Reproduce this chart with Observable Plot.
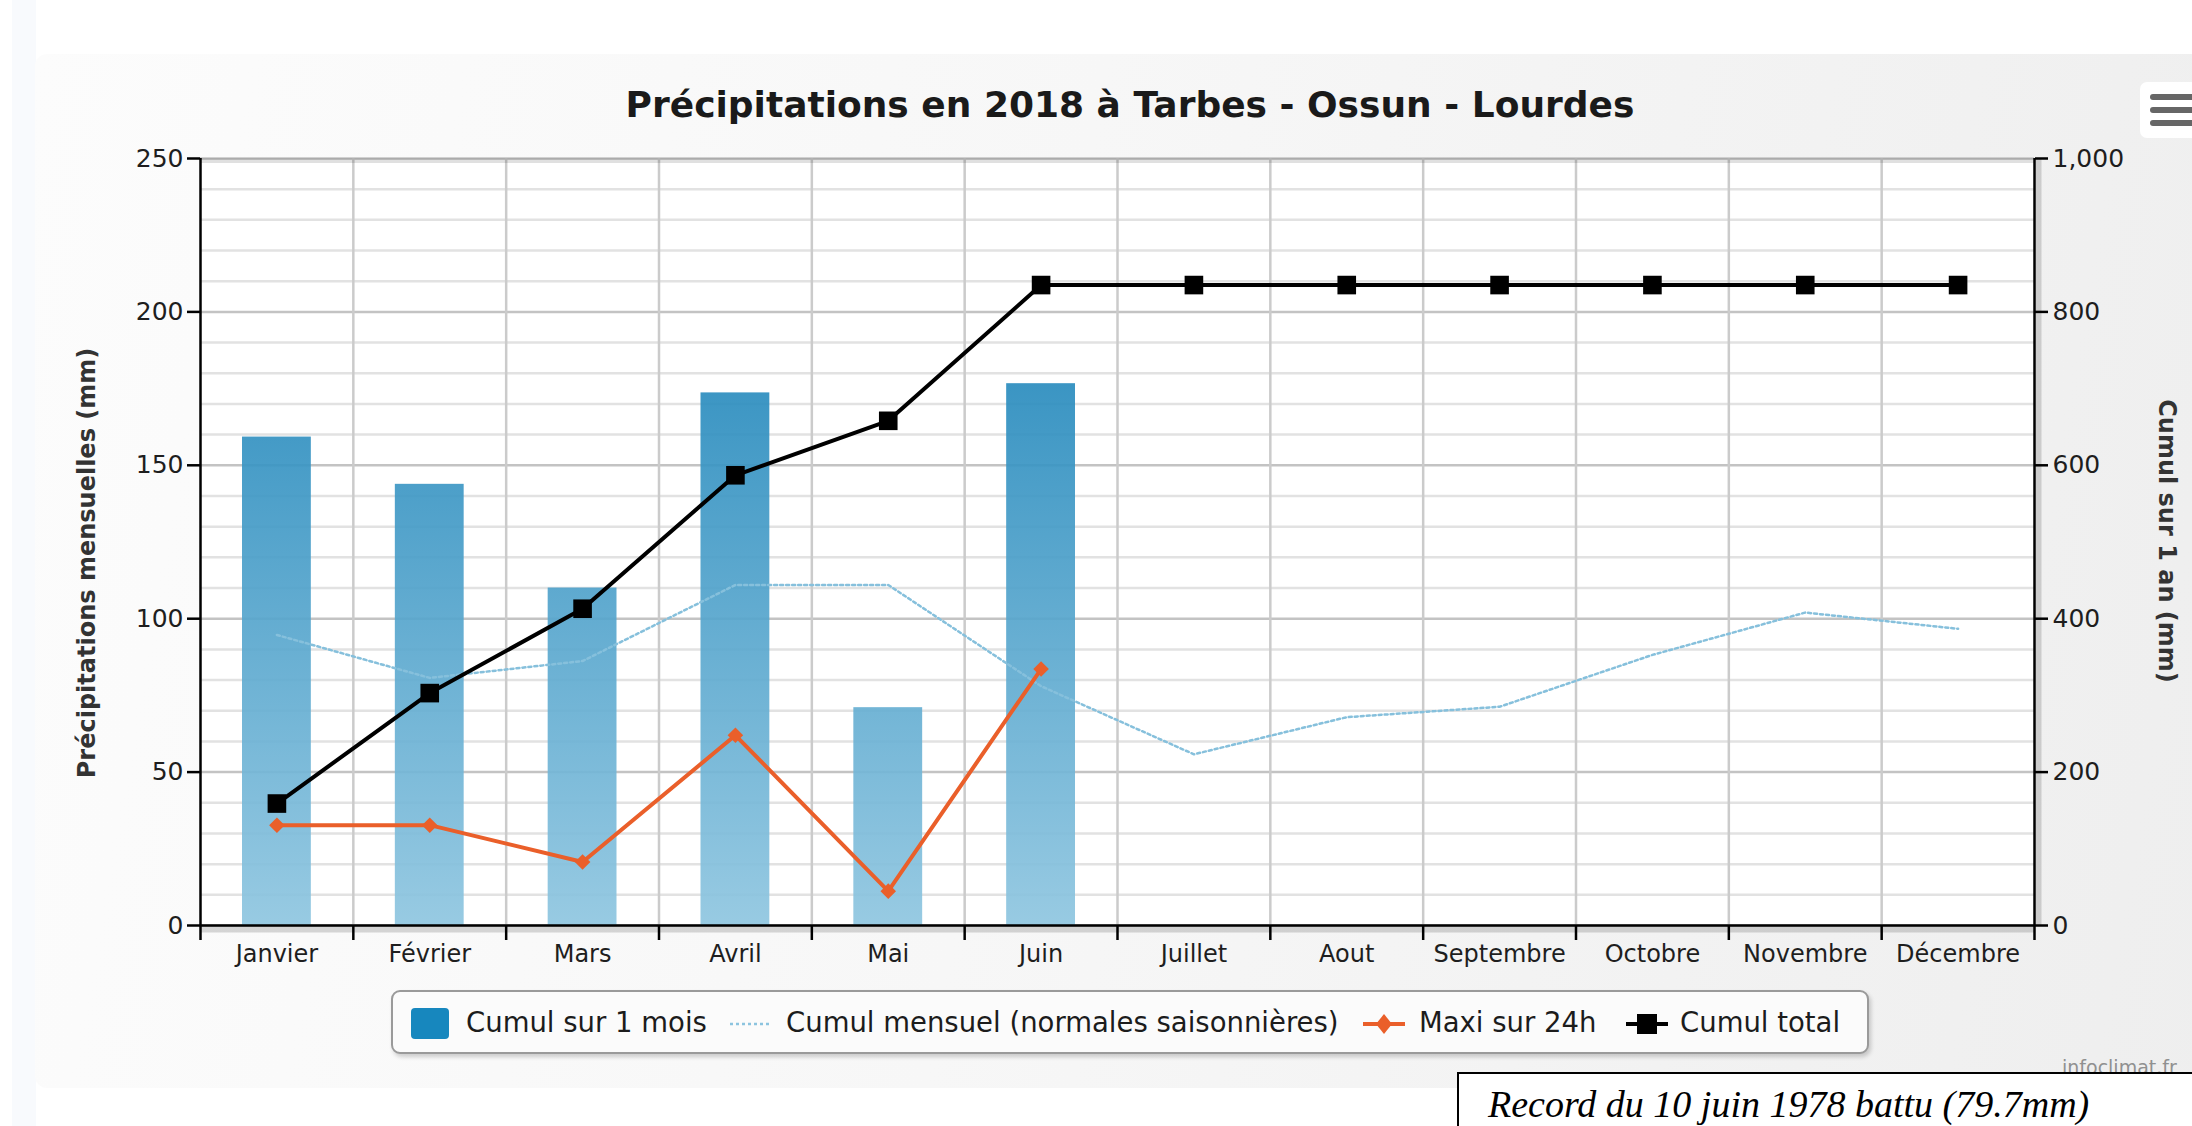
<!DOCTYPE html>
<html>
<head>
<meta charset="utf-8">
<script src="https://cdn.jsdelivr.net/npm/d3@7"></script>
<script src="https://cdn.jsdelivr.net/npm/@observablehq/plot@0.6"></script>
<style>
  html, body { margin:0; padding:0; width:2192px; height:1126px; overflow:hidden; background:#ffffff; }
  body { font-family: "DejaVu Sans", sans-serif; color:#222; }
  #page { position:relative; width:2192px; height:1126px; overflow:hidden; }
  #strip { position:absolute; left:12px; top:0; width:24px; height:1126px; background:#f8fafd; }
  #card { position:absolute; left:35px; top:54px; width:2200px; height:1034px; border-radius:12px;
          background:linear-gradient(100deg,#fcfcfc 0%,#f7f7f7 45%,#eeeeee 100%); }
  #title { position:absolute; left:1130px; top:84px; transform:translateX(-50%); white-space:nowrap;
           font-weight:bold; font-size:36px; line-height:42px; color:#1a1a1a; }
  #chart { position:absolute; left:0; top:130px; }
  .ytitle { position:absolute; white-space:nowrap; font-weight:bold; font-size:24px; color:#333; }
  #ytl { left:87px; top:563px; transform:translate(-50%,-50%) rotate(-90deg); }
  #ytr { left:2167px; top:541px; transform:translate(-50%,-50%) rotate(90deg); }
  #legend { position:absolute; left:391px; top:990px; width:1474px; height:60px; border:2px solid #9a9a9a;
            border-radius:9px; background:#fbfbfb; box-shadow:2px 3px 4px rgba(0,0,0,0.18); }
  .lg { position:absolute; top:1004px; font-size:27.5px; line-height:36px; white-space:nowrap; color:#1c1c1c; }
  .sym { position:absolute; }
  #menu { position:absolute; left:2140px; top:82px; width:70px; height:56px; border-radius:7px; background:#ffffff; }
  .bar3 { position:absolute; left:2150px; width:60px; height:6px; border-radius:3px; background:#666; }
  #credit { position:absolute; left:2062px; top:1056px; font-size:19px; color:#909090; white-space:nowrap; }
  #record { position:absolute; left:1457px; top:1072px; width:800px; height:100px; border:2px solid #000;
            background:#ffffff; }
  #recordText { position:absolute; left:1488px; top:1082px; font-family:"Liberation Serif", serif; font-style:italic;
                font-size:38px; line-height:44px; white-space:nowrap; color:#000; }
</style>
</head>
<body>
<div id="page">
  <div id="strip"></div>
  <div id="card"></div>
  <div id="title">Précipitations en 2018 à Tarbes - Ossun - Lourdes</div>
  <div id="chart"></div>
  <div class="ytitle" id="ytl">Précipitations mensuelles (mm)</div>
  <div class="ytitle" id="ytr">Cumul sur 1 an (mm)</div>
  <div id="legend"></div>
  <div class="sym" style="left:411px;top:1008px;width:38px;height:31px;border-radius:4px;background:#1787be;"></div>
  <div class="lg" style="left:466px;">Cumul sur 1 mois</div>
  <svg class="sym" style="left:728px;top:1014px;" width="46" height="20"><line x1="2" y1="10" x2="44" y2="10" stroke="#8cc4df" stroke-width="2.5" stroke-dasharray="3,3"/></svg>
  <div class="lg" style="left:786px;">Cumul mensuel (normales saisonnières)</div>
  <svg class="sym" style="left:1361px;top:1010px;" width="46" height="28"><line x1="2" y1="14" x2="44" y2="14" stroke="#ea5f2a" stroke-width="4"/><path d="M23,4 L31,14 L23,24 L15,14 Z" fill="#ea5f2a"/></svg>
  <div class="lg" style="left:1419px;">Maxi sur 24h</div>
  <svg class="sym" style="left:1624px;top:1010px;" width="46" height="28"><line x1="2" y1="14" x2="44" y2="14" stroke="#000" stroke-width="4"/><rect x="13" y="4" width="20" height="20" fill="#000"/></svg>
  <div class="lg" style="left:1680px;">Cumul total</div>
  <div id="menu"></div>
  <div class="bar3" style="top:94px;"></div>
  <div class="bar3" style="top:107px;"></div>
  <div class="bar3" style="top:120px;"></div>
  <div id="credit">infoclimat.fr</div>
  <div id="record"></div>
  <div id="recordText">Record du 10 juin 1978 battu (79.7mm)</div>
</div>
<script>
// ---- Data ----
const months = ["Janvier","Février","Mars","Avril","Mai","Juin","Juillet","Aout","Septembre","Octobre","Novembre","Décembre"];
const cumulMois = [159.2, 143.8, 110.0, 173.6, 71.0, 176.6];           // Cumul sur 1 mois (mm)
const normales = [94.7, 80.7, 86.2, 111.0, 111.0, 78.0, 55.8, 67.9, 71.3, 88.2, 102.0, 96.7]; // normales saisonnières
const maxi24h = [32.7, 32.7, 20.7, 62.0, 11.2, 83.6];                  // Maxi sur 24h (mm)
const cumulTotal = [159, 303, 413, 587, 658, 835, 835, 835, 835, 835, 835, 835]; // Cumul total (mm, right axis)
const leftTicks = [0, 50, 100, 150, 200, 250];
const rightTicks = [0, 200, 400, 600, 800, 1000];
const minorTicks = [10,20,30,40,60,70,80,90,110,120,130,140,160,170,180,190,210,220,230,240];
const ratio = 4; // right axis = 4 x left axis

const barData = cumulMois.map((v, i) => ({i, v}));
const normData = normales.map((v, i) => ({i, v}));
const maxiData = maxi24h.map((v, i) => ({i, v}));
const totData = cumulTotal.map((v, i) => ({i, v}));
const boundaries = d3.range(0, months.length + 1);
const centers = months.map((m, i) => i + 0.5);

const W = 2192, H = 860;
const chart = Plot.plot({
  width: W, height: H,
  marginLeft: 200, marginRight: 158, marginTop: 28, marginBottom: 65,
  style: {background: "transparent", color: "#222", fontFamily: "DejaVu Sans, sans-serif"},
  x: {type: "linear", domain: [0, 12], axis: null, label: null},
  y: {domain: [0, 250], axis: null, label: null},
  marks: [
    Plot.frame({fill: "#ffffff", stroke: null}),
    Plot.gridY(minorTicks, {stroke: "#e2e2e2", strokeOpacity: 1, strokeWidth: 2.5}),
    Plot.gridY(leftTicks, {stroke: "#c3c3c3", strokeOpacity: 1, strokeWidth: 2.5}),
    Plot.gridX(boundaries.slice(1, -1), {stroke: "#cbcbcb", strokeOpacity: 1, strokeWidth: 2.5}),
    Plot.ruleY([250], {stroke: "#000", strokeOpacity: 0.12, strokeWidth: 5, dy: 2}),
    Plot.rectY(barData, {x1: d => d.i, x2: d => d.i + 1, y: "v", insetLeft: 42, insetRight: 42,
      fill: "url(#barGrad)", fillOpacity: 0.92}),
    Plot.line(normData, {x: d => d.i + 0.5, y: "v", stroke: "#86c0dc", strokeWidth: 2.5, strokeDasharray: "3,3"}),
    Plot.line(maxiData, {x: d => d.i + 0.5, y: "v", stroke: "#ea5f2a", strokeWidth: 4}),
    Plot.dot(maxiData, {x: d => d.i + 0.5, y: "v", symbol: "diamond2", r: 7, fill: "#ea5f2a", stroke: null}),
    Plot.line(totData, {x: d => d.i + 0.5, y: d => d.v / ratio, stroke: "#000", strokeWidth: 4}),
    Plot.dot(totData, {x: d => d.i + 0.5, y: d => d.v / ratio, symbol: "square", r: 10.5, fill: "#000", stroke: null}),
    // axis shadows
    Plot.ruleY([0], {stroke: "#000", strokeOpacity: 0.15, strokeWidth: 6, dy: 4}),
    Plot.ruleX([12], {stroke: "#000", strokeOpacity: 0.15, strokeWidth: 6, dx: 4}),
    // axis lines
    Plot.ruleX([0], {stroke: "#000", strokeWidth: 2.5}),
    Plot.ruleX([12], {stroke: "#000", strokeWidth: 2.5}),
    Plot.ruleY([0], {stroke: "#000", strokeWidth: 2.5}),
    // left axis
    Plot.axisY(leftTicks, {anchor: "left", label: null, tickSize: 13, tickPadding: 4, stroke: "#000", strokeWidth: 2.5,
      fontSize: 25, fill: "#1e1e1e", tickFormat: d => String(d)}),
    // right axis (cumul total)
    Plot.axisY(rightTicks.map(v => v / ratio), {anchor: "right", label: null, tickSize: 13, tickPadding: 5, stroke: "#000", strokeWidth: 2.5,
      fontSize: 25, fill: "#1e1e1e", tickFormat: v => d3.format(",")(v * ratio)}),
    // month boundary ticks
    Plot.axisX(boundaries, {anchor: "bottom", label: null, tickSize: 15, stroke: "#000", strokeWidth: 2.5, tickFormat: () => ""}),
    // month labels
    Plot.axisX(centers, {anchor: "bottom", label: null, tickSize: 0, tickPadding: 19, fontSize: 24, fill: "#1e1e1e",
      tickFormat: d => months[Math.floor(d)]})
  ]
});

// gradient for the columns, spanning the plot area
const y = chart.scale("y");
const svgNS = "http://www.w3.org/2000/svg";
const defs = document.createElementNS(svgNS, "defs");
defs.innerHTML = `<linearGradient id="barGrad" gradientUnits="userSpaceOnUse" x1="0" x2="0" y1="${y.apply(250)}" y2="${y.apply(0)}">
  <stop offset="0" stop-color="#0074b0"/>
  <stop offset="1" stop-color="#8fc6e0"/>
</linearGradient>`;
chart.insertBefore(defs, chart.firstChild);
document.getElementById("chart").appendChild(chart);
</script>
</body>
</html>
